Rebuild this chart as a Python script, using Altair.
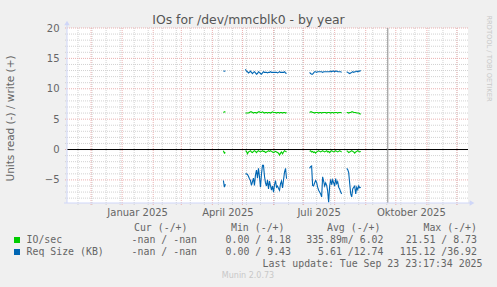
import altair as alt
import pandas as pd

# ---------------- data ----------------
SEG_START = ["2025-04-12", "2025-05-04", "2025-07-07", "2025-08-13"]

IO_WRITE = [
    [6.1, 6.2, 6.2],
    [6.0, 6.0, 6.0, 6.0, 6.1, 6.2, 6.2, 6.1, 6.0, 6.1, 6.1, 6.0, 6.1, 6.2, 6.2, 6.1, 6.1, 6.2, 6.1, 6.0,
     6.1, 6.1, 6.0, 6.1, 6.1, 6.0, 6.1, 6.2, 6.1, 6.1, 6.1, 6.0, 6.1, 6.1, 6.0, 6.1, 6.1, 6.0, 6.1, 6.1,
     6.0, 6.1],
    [6.1, 6.2, 6.2, 6.1, 6.1, 6.0, 6.1, 6.1, 6.1, 6.0, 6.1, 6.1, 6.0, 6.1, 6.1, 6.1, 6.1, 6.0, 6.1, 6.1,
     6.1, 6.0, 6.1, 6.1, 6.0, 6.1, 6.1, 6.1, 6.0, 6.1, 6.1, 6.1, 6.0],
    [6.1, 6.1, 6.0, 6.1, 6.1, 6.2, 6.2, 6.1, 6.1, 6.1, 6.0, 6.0, 6.0, 5.9, 5.8],
]
IO_READ = [
    [-0.2, -0.6, -0.5],
    [-0.2, -0.3, -0.7, -0.4, -0.3, -0.2, -0.4, -0.5, -0.3, -0.2, -0.3, -0.5, -0.3, -0.2, -0.3, -0.4, -0.3, -0.2, -0.3, -0.3,
     -0.5, -0.4, -0.3, -0.2, -0.3, -0.2, -0.3, -0.4, -0.5, -0.4, -0.3, -0.4, -0.5, -0.6, -0.9, -0.6, -0.4, -0.7, -0.4, -0.2,
     -0.3, -0.4],
    [-0.3, -0.2, -0.4, -0.3, -0.5, -0.4, -0.6, -0.4, -0.3, -0.2, -0.3, -0.4, -0.3, -0.2, -0.3, -0.4, -0.3, -0.2, -0.4, -0.3,
     -0.5, -0.3, -0.2, -0.3, -0.4, -0.3, -0.2, -0.3, -0.4, -0.3, -0.2, -0.3, -0.4],
    [-0.2, -0.3, -0.5, -0.4, -0.3, -0.2, -0.3, -0.4, -0.6, -0.4, -0.3, -0.2, -0.3, -0.4, -0.3],
]
REQ_WRITE = [
    [12.9, 12.9, 12.9],
    [13.2, 12.9, 12.8, 12.6, 12.7, 12.9, 12.7, 12.5, 12.7, 12.8, 12.6, 12.4, 12.5, 12.8, 12.7, 12.5, 12.4, 12.6, 12.8, 12.7,
     12.7, 12.7, 12.6, 12.7, 12.7, 12.8, 12.7, 12.7, 12.7, 12.7, 12.7, 12.7, 12.6, 12.7, 12.8, 12.7, 12.7, 12.7, 12.7, 12.8,
     12.6, 12.5],
    [12.7, 12.5, 12.4, 12.4, 12.6, 12.8, 12.8, 12.7, 12.8, 12.8, 12.8, 12.8, 12.8, 12.7, 12.8, 12.8, 12.8, 12.8, 12.8, 12.8,
     12.8, 12.9, 12.8, 12.9, 12.9, 12.8, 12.9, 12.9, 12.8, 12.8, 12.8, 12.8, 12.7],
    [12.8, 12.7, 12.6, 12.5, 12.6, 12.7, 12.8, 12.7, 12.8, 12.8, 12.9, 12.8, 12.9, 12.9, 13.0],
]
REQ_READ = [
    [-5.1, -6.2, -5.7],
    [-4.0, -4.0, -4.1, -4.4, -4.8, -5.1, -5.9, -5.3, -4.7, -5.9, -4.2, -3.4, -4.7, -3.1, -4.5, -6.2, -4.0, -2.6, -2.6, -4.4,
     -5.5, -6.0, -5.0, -6.5, -5.2, -6.0, -6.7, -6.0, -7.0, -5.8, -5.1, -6.2, -6.0, -6.4, -6.7, -5.6, -5.2, -6.3, -5.0, -3.7,
     -3.1, -4.8],
    [-3.1, -2.8, -2.7, -5.9, -6.0, -5.5, -5.1, -5.4, -6.2, -6.7, -7.0, -7.3, -7.8, -4.5, -5.2, -6.0, -5.5, -5.9, -6.8, -8.7,
     -6.0, -4.9, -5.8, -5.0, -5.5, -6.0, -4.8, -5.6, -5.3, -6.2, -6.5, -7.0, -7.3],
    [-3.1, -3.3, -3.8, -5.6, -7.3, -7.8, -6.5, -6.2, -6.0, -7.3, -6.2, -6.6, -6.0, -6.3, -6.2],
]

SERIES = ["IO/sec", "Req Size (KB)"]
COLORS = ["#00cc00", "#0066b3"]

MONTH_STARTS = ["2024-12-01", "2025-01-01", "2025-02-01", "2025-03-01", "2025-04-01", "2025-05-01",
                "2025-06-01", "2025-07-01", "2025-08-01", "2025-09-01", "2025-10-01", "2025-11-01",
                "2025-12-01"]
Y_MAJOR = [-5, 0, 5, 10, 15, 20]
Y_MINOR = [-8, -7, -6, -4, -3, -2, -1, 1, 2, 3, 4, 6, 7, 8, 9, 11, 12, 13, 14, 16, 17, 18, 19]
NOW_LINE = ["2025-09-23"]
MONTHS_DE = ["Januar", "Februar", "März", "April", "Mai", "Juni", "Juli", "August",
             "September", "Oktober", "November", "Dezember"]

LEG_HEAD = ["Cur (-/+)", "Min (-/+)", "Avg (-/+)", "Max (-/+)"]
LEG_IO = ["-nan / -nan", "0.00 / 4.18", "335.89m/ 6.02", "21.51 / 8.73"]
LEG_REQ = ["-nan / -nan", "0.00 / 9.43", "5.61 /12.74", "115.12 /36.92"]

# ---------------- build tables ----------------
rows = []
for name, parts in [("IO/sec", [("w", IO_WRITE), ("r", IO_READ)]),
                    ("Req Size (KB)", [("w", REQ_WRITE), ("r", REQ_READ)])]:
    for p, segs in parts:
        for si, vals in enumerate(segs):
            start = pd.Timestamp(SEG_START[si])
            for i, v in enumerate(vals):
                rows.append({"date": (start + pd.Timedelta(days=i)).strftime("%Y-%m-%d"),
                             "value": v, "series": name, "grp": f"{name}-{p}-{si}"})
df = pd.DataFrame(rows)

biweekly = [d.strftime("%Y-%m-%d") for d in pd.date_range("2024-11-18", "2025-12-12", freq="14D")]

W, H = 401, 175
OX, OY = 67, 28
FONT = "DejaVu Sans"
MONO = "DejaVu Sans Mono"
TXT = "#666666"
AXC = "#CFD6F8"
GRID = "#d2d2d2"
MGRID = "#ebb0b0"

xscale = alt.Scale(type="utc", domain=[alt.DateTime(year=2024, month=11, date=7, utc=True),
                                       alt.DateTime(year=2025, month=12, date=12, utc=True)])
label_expr = "[" + ",".join(f"'{m}'" for m in MONTHS_DE) + "][utcmonth(datum.value)] + ' ' + utcyear(datum.value)"
xaxis = alt.Axis(values=[alt.DateTime(year=2025, month=m, date=16, utc=True) for m in (1, 4, 7, 10)],
                 labelExpr=label_expr, title=None, grid=False, ticks=False, domain=False,
                 labelFont=FONT, labelFontSize=10, labelColor=TXT, labelPadding=4,
                 labelFlush=False, labelOverlap=False)
yscale = alt.Scale(domain=[-8.8, 20], nice=False, zero=False)
yaxis = alt.Axis(values=Y_MAJOR, title=None, grid=False, ticks=False, domain=False,
                 labelFont=FONT, labelFontSize=10, labelColor=TXT, labelPadding=8)


def X(field="date"):
    return alt.X(field, type="temporal", scale=xscale, axis=xaxis)


def Y(field="y"):
    return alt.Y(field, type="quantitative", scale=yscale, axis=yaxis)


one = pd.DataFrame({"a": [0]})

vminor = alt.Chart(pd.DataFrame({"date": biweekly})).mark_rule(
    color=GRID, strokeWidth=1, strokeDash=[1, 1]).encode(
    x=X(), y=alt.value(0), y2=alt.value(H + 2))
vmajor = alt.Chart(pd.DataFrame({"date": MONTH_STARTS})).mark_rule(
    color=MGRID, strokeWidth=1, strokeDash=[1, 1]).encode(
    x=X(), y=alt.value(0), y2=alt.value(H + 2))
hminor = alt.Chart(pd.DataFrame({"y": Y_MINOR})).mark_rule(
    color=GRID, strokeWidth=1, strokeDash=[1, 1]).encode(
    y=Y(), x=alt.value(-2), x2=alt.value(W))
hmajor = alt.Chart(pd.DataFrame({"y": Y_MAJOR})).mark_rule(
    color=MGRID, strokeWidth=1, strokeDash=[1, 1]).encode(
    y=Y(), x=alt.value(-2), x2=alt.value(W))
zero = alt.Chart(pd.DataFrame({"y": [0]})).mark_rule(color="#000000", strokeWidth=1).encode(
    y=Y(), x=alt.value(0), x2=alt.value(W))
nowline = alt.Chart(pd.DataFrame({"date": NOW_LINE})).mark_rule(color="#8c8c8c", strokeWidth=1).encode(
    x=X(), y=alt.value(0), y2=alt.value(H))

lines = alt.Chart(df).mark_line(strokeWidth=1.1).encode(
    x=X(), y=Y("value"),
    color=alt.Color("series:N", scale=alt.Scale(domain=SERIES, range=COLORS), legend=None),
    detail="grp:N", order="date:T")

# axes with arrows
yax = alt.Chart(one).mark_rule(color=AXC, strokeWidth=1).encode(
    x=alt.value(0), y=alt.value(H), y2=alt.value(-4))
xax = alt.Chart(one).mark_rule(color=AXC, strokeWidth=1).encode(
    y=alt.value(H), x=alt.value(-3), x2=alt.value(W + 3))
yarrow = alt.Chart(one).mark_point(shape="triangle-up", filled=True, color=AXC, opacity=1, size=30).encode(
    x=alt.value(0), y=alt.value(-5))
xarrow = alt.Chart(one).mark_point(shape="triangle-right", filled=True, color=AXC, opacity=1, size=30).encode(
    x=alt.value(W + 4), y=alt.value(H))


def label(text, x, y, size=10, font=FONT, color=TXT, align="left", angle=0, baseline="middle"):
    kw = dict(text=text, font=font, fontSize=size, color=color, align=align, baseline=baseline)
    if angle:
        kw["angle"] = angle
    return alt.Chart(one).mark_text(**kw).encode(x=alt.value(x - OX), y=alt.value(y - OY))


texts = [
    label("IOs for /dev/mmcblk0 - by year", 248.5, 20, size=12.4, color="#555555", align="center"),
    label("Units read (-) / write (+)", 11, 118.5, size=10.5, align="center", angle=270),
    label("RRDTOOL / TOBI OETIKER", 488.5, 58.5, size=6.7, color="#c8c8c8", align="center", angle=90),
    label("Munin 2.0.73", 248, 276, size=8, color="#c8c8c8", align="center"),
    label("Last update: Tue Sep 23 23:17:34 2025", 482.5, 263.5, size=9.9, font=MONO, align="right"),
    label(SERIES[0], 26.5, 240, size=9.9, font=MONO),
    label(SERIES[1], 26.5, 252, size=9.9, font=MONO),
]
head_ends = [187.5, 284.5, 380.5, 477]
val_ends = [197, 291, 383.5, 477]
for i in range(4):
    texts.append(label(LEG_HEAD[i], head_ends[i], 228, size=9.9, font=MONO, align="right"))
    texts.append(label(LEG_IO[i], val_ends[i], 240, size=9.9, font=MONO, align="right"))
    texts.append(label(LEG_REQ[i], val_ends[i], 252, size=9.9, font=MONO, align="right"))

boxes = [
    alt.Chart(one).mark_square(size=36, color=COLORS[0], opacity=1).encode(
        x=alt.value(17 - OX), y=alt.value(240 - OY)),
    alt.Chart(one).mark_square(size=36, color=COLORS[1], opacity=1).encode(
        x=alt.value(17 - OX), y=alt.value(252 - OY)),
]

chart = alt.layer(
    vminor, vmajor, hminor, hmajor, zero, nowline, lines,
    yax, xax, yarrow, xarrow, *texts, *boxes
).properties(
    width=W, height=H,
    background="#F0F0F0",
    autosize=alt.AutoSizeParams(type="none"),
    padding={"left": OX, "top": OY, "right": 497 - OX - W, "bottom": 287 - OY - H},
).configure_view(fill="white", stroke=None)

chart.save("out.html", embed_options={"renderer": "svg", "actions": False})
